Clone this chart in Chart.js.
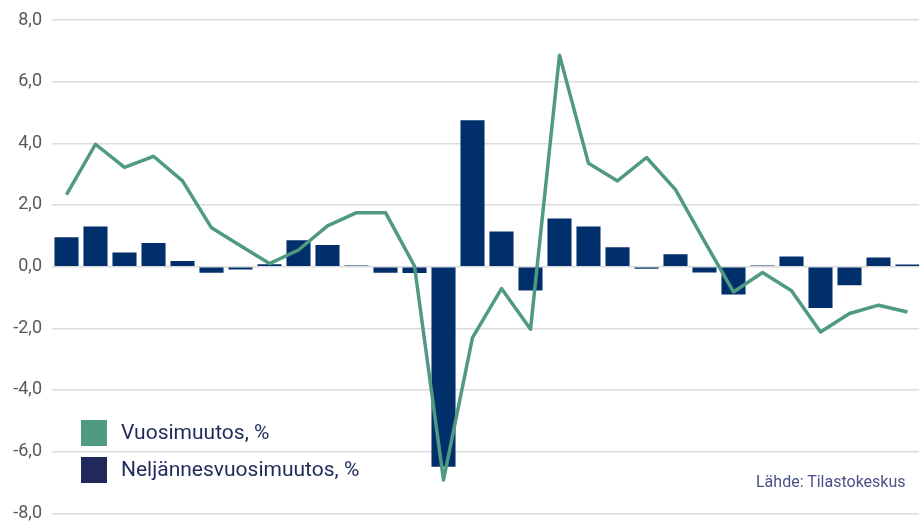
<!DOCTYPE html>
<html>
<head>
<meta charset="utf-8">
<script src="https://cdn.jsdelivr.net/npm/chart.js@4/dist/chart.umd.min.js"></script>
<style>
  html, body { margin: 0; padding: 0; background: #fff; overflow: hidden; width: 919px; height: 522px; }
  #wrap { position: absolute; left: 0; top: 0; width: 922px; height: 522px; }
  .legend { position: absolute; left: 81px; font-family: Roboto, sans-serif; font-size: 21px; color: #1f2a5a; }
  .legend .item { position: absolute; left: 0; width: 400px; height: 26px; white-space: nowrap; }
  .legend .box { position: absolute; left: 0; top: 0; width: 26px; height: 26px; }
  .legend .txt { position: absolute; left: 40px; top: 50%; transform: translateY(-52%); line-height: 1; }
  #source { position: absolute; left: 756px; top: 474px; font-family: Roboto, sans-serif; font-size: 16px; color: #4a5285; white-space: nowrap; line-height: 1; }
</style>
</head>
<body>
<div id="wrap"><canvas id="c" width="922" height="522"></canvas></div>
<div class="legend" id="legend"></div>
<div id="source">Lähde: Tilastokeskus</div>
<script>
const categories = ["1","2","3","4","5","6","7","8","9","10","11","12","13","14","15","16","17","18","19","20","21","22","23","24","25","26","27","28","29","30"];
const seriesNames = ["Vuosimuutos, %", "Neljännesvuosimuutos, %"];
const annualChange = [2.34, 3.97, 3.22, 3.58, 2.78, 1.26, 0.68, 0.10, 0.54, 1.32, 1.75, 1.75, 0.02, -6.92, -2.30, -0.71, -2.03, 6.86, 3.35, 2.78, 3.54, 2.50, 0.82, -0.82, -0.19, -0.78, -2.12, -1.52, -1.25, -1.47];
const quarterlyChange = [0.95, 1.30, 0.46, 0.77, 0.18, -0.20, -0.09, 0.08, 0.86, 0.70, 0.04, -0.20, -0.21, -6.49, 4.75, 1.14, -0.77, 1.56, 1.30, 0.63, -0.07, 0.40, -0.19, -0.90, 0.04, 0.33, -1.34, -0.60, 0.30, 0.07];
const yTicks = [-8, -6, -4, -2, 0, 2, 4, 6, 8];

const GREEN = '#4f9a80';
const NAVY_BAR = '#002f6c';
const NAVY_LEGEND = '#1f2a5a';

// HTML legend
const legendEl = document.getElementById('legend');
[[seriesNames[0], GREEN, 420], [seriesNames[1], NAVY_LEGEND, 457]].forEach(([name, col, top]) => {
  const it = document.createElement('div');
  it.className = 'item';
  it.style.top = (top) + 'px';
  it.innerHTML = '<div class="box" style="background:' + col + '"></div><div class="txt"></div>';
  it.querySelector('.txt').textContent = name;
  legendEl.appendChild(it);
});

new Chart(document.getElementById('c'), {
  data: {
    labels: categories,
    datasets: [
      {
        type: 'line',
        label: seriesNames[0],
        data: annualChange,
        borderColor: GREEN,
        backgroundColor: GREEN,
        borderWidth: 3.5,
        pointRadius: 0,
        tension: 0,
        borderJoinStyle: 'round',
        order: 0
      },
      {
        type: 'bar',
        label: seriesNames[1],
        data: quarterlyChange,
        backgroundColor: NAVY_BAR,
        borderWidth: 0,
        barPercentage: 0.83,
        categoryPercentage: 1.0,
        order: 1
      }
    ]
  },
  options: {
    responsive: false,
    animation: false,
    layout: { padding: { top: 20, bottom: 8.7, left: 0, right: 0 } },
    plugins: { legend: { display: false }, tooltip: { enabled: false } },
    scales: {
      x: { display: false, offset: true, grid: { display: false } },
      y: {
        min: -8, max: 8,
        afterBuildTicks: (s) => { s.ticks = yTicks.map(v => ({ value: v })); },
        afterFit: (s) => { s.width = 52; s.paddingTop = 0; s.paddingBottom = 0; },
        border: { display: false },
        grid: { color: '#dcdcdc', lineWidth: 1.5, drawTicks: false },
        ticks: {
          padding: 10,
          color: '#595959',
          font: { family: 'Roboto', size: 18 },
          callback: (v) => v.toFixed(1).replace('.', ',')
        }
      }
    }
  }
});
</script>
</body>
</html>
